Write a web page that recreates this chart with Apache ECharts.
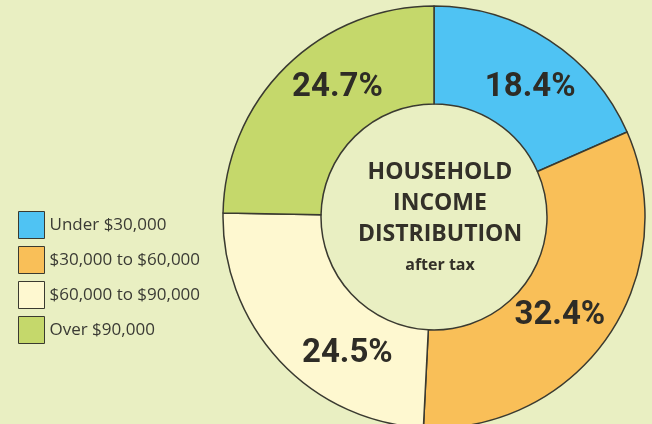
<!DOCTYPE html>
<html>
<head>
<meta charset="utf-8">
<script src="https://cdn.jsdelivr.net/npm/echarts@6/dist/echarts.min.js"></script>
<style>
  html, body { margin: 0; padding: 0; background: #e9efc2; }
  #chart { width: 652px; height: 424px; }
</style>
</head>
<body>
<div id="chart"></div>
<script>
// income brackets, clockwise from 12 o'clock
let categories = ['Under $30,000', '$30,000 to $60,000', '$60,000 to $90,000', 'Over $90,000']
let shares = [18.4, 32.4, 24.5, 24.7]
let colors = ['#4fc3f3', '#f9bf58', '#fef8d0', '#c5d86b']

// nudge the percentage labels to where the original put them
let labelNudge = [[6, 9], [-10, 5], [34, 24], [19, -11]]

let chart = echarts.init(document.getElementById('chart'))

chart.setOption({
  backgroundColor: '#e9efc2',
  color: colors,
  title: {
    text: '{a|HOUSEHOLD}\n{a|INCOME}\n{a|DISTRIBUTION}\n{b|after tax}',
    left: 435,
    top: 152,
    textAlign: 'center',
    textStyle: {
      rich: {
        a: {
          fontFamily: 'Open Sans',
          fontWeight: 'bold',
          fontSize: 23,
          lineHeight: 31,
          color: '#333028',
          align: 'center'
        },
        b: {
          fontFamily: 'Open Sans',
          fontWeight: 'bold',
          fontSize: 16,
          lineHeight: 30,
          color: '#333028',
          align: 'center'
        }
      }
    }
  },
  legend: {
    orient: 'vertical',
    left: 13,
    top: 206,
    icon: 'rect',
    itemWidth: 26,
    itemHeight: 27,
    itemGap: 7,
    itemStyle: {
      borderColor: '#3a3a30',
      borderWidth: 1
    },
    textStyle: {
      fontFamily: 'Open Sans',
      fontSize: 17,
      color: '#3a3a34',
      padding: [0, 0, 0, 0]
    },
    data: categories
  },
  series: [
    {
      name: 'income',
      type: 'pie',
      center: [434, 217],
      radius: [113, 211],
      startAngle: 90,
      clockwise: true,
      avoidLabelOverlap: false,
      silent: true,
      itemStyle: {
        borderColor: '#3a3a30',
        borderWidth: 1.5
      },
      label: {
        show: true,
        position: 'inside',
        formatter: (p) => p.value.toFixed(1) + '%',
        fontFamily: 'Roboto',
        fontWeight: 'bold',
        fontSize: 33,
        color: '#2e2c26'
      },
      labelLine: {show: false},
      data: categories.map((name, i) => ({
        name: name,
        value: shares[i],
        label: {offset: labelNudge[i]}
      }))
    }
  ]
})
</script>
</body>
</html>
